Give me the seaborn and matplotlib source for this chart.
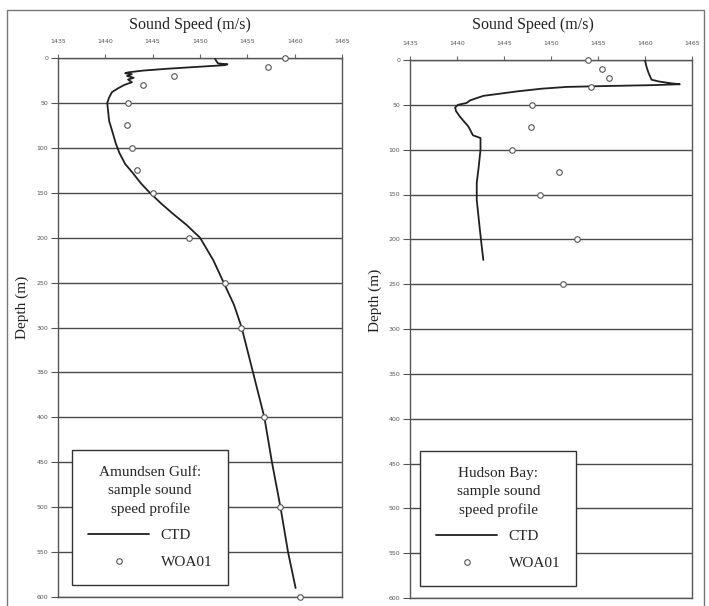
import matplotlib
matplotlib.use("Agg")
import matplotlib.pyplot as plt
import seaborn as sns
import pandas as pd
from matplotlib.lines import Line2D
from matplotlib.patches import Rectangle

# ---------------- data ----------------
ag_ctd_depth = [1, 3, 6, 7, 8, 10, 12, 14, 16, 17, 18, 20, 22, 24, 27, 30, 34, 38, 44, 50,
                60, 70, 84, 95, 106, 118, 128, 140, 150, 162, 173, 186, 200, 225, 250,
                275, 300, 350, 400, 450, 500, 550, 590]
ag_ctd_speed = [1451.6, 1451.7, 1451.9, 1452.9, 1452.6, 1449.5, 1446.5, 1444.0, 1442.4, 1442.1,
                1442.8, 1442.3, 1443.0, 1442.4, 1442.8, 1442.0, 1441.3, 1440.7, 1440.4, 1440.2,
                1440.3, 1440.4, 1440.8, 1441.1, 1441.5, 1442.1, 1442.9, 1443.8, 1444.7, 1445.9,
                1447.1, 1448.6, 1450.0, 1451.4, 1452.5, 1453.6, 1454.4, 1455.6, 1456.8, 1457.6,
                1458.5, 1459.3, 1460.1]
ag_woa_depth = [0, 10, 20, 30, 50, 75, 100, 125, 150, 200, 250, 300, 400, 500, 600]
ag_woa_speed = [1459.0, 1457.2, 1447.3, 1444.0, 1442.4, 1442.3, 1442.8, 1443.3, 1445.0,
                1448.8, 1452.6, 1454.3, 1456.8, 1458.5, 1460.6]

hb_ctd_depth = [0, 5, 9, 15, 22, 24, 26, 27, 28, 29, 30, 32, 35, 40, 45, 48, 50, 53, 57, 63,
                68, 74, 80, 84, 87, 100, 120, 137, 156, 186, 205, 223]
hb_ctd_speed = [1460.0, 1460.1, 1460.2, 1460.4, 1460.7, 1461.5, 1462.8, 1463.7, 1461.0, 1456.0,
                1451.7, 1449.0, 1446.4, 1442.8, 1441.4, 1441.0, 1440.1, 1439.8, 1439.9, 1440.3,
                1440.7, 1441.2, 1441.5, 1441.7, 1442.5, 1442.5, 1442.3, 1442.1, 1442.1, 1442.4,
                1442.6, 1442.8]
hb_woa_depth = [0, 10, 20, 30, 50, 75, 100, 125, 150, 200, 250]
hb_woa_speed = [1453.9, 1455.4, 1456.2, 1454.3, 1448.0, 1447.9, 1445.9, 1450.9, 1448.8,
                1452.8, 1451.3]

x_ticks = [1435, 1440, 1445, 1450, 1455, 1460, 1465]
y_ticks = list(range(0, 601, 50))
titles = ["Amundsen Gulf:\nsample sound\nspeed profile", "Hudson Bay:\nsample sound\nspeed profile"]

# ---------------- style ----------------
sns.set_style("white")
plt.rcParams["font.family"] = ["Liberation Serif", "DejaVu Serif"]

W, H = 709, 606
fig = plt.figure(figsize=(W / 100, H / 100), dpi=100)

def px_axes(x0, x1, ytop, ybot):
    return [x0 / W, (H - ybot) / H, (x1 - x0) / W, (ybot - ytop) / H]

axes = [fig.add_axes(px_axes(58, 342, 58, 597)),
        fig.add_axes(px_axes(410, 692, 60, 598))]

datasets = [
    (ag_ctd_depth, ag_ctd_speed, ag_woa_depth, ag_woa_speed),
    (hb_ctd_depth, hb_ctd_speed, hb_woa_depth, hb_woa_speed),
]
leg_x = [0.049, 0.036]

for ax, (cd, cs, wd, ws), ttl, lx in zip(axes, datasets, titles, leg_x):
    ctd = pd.DataFrame({"speed": cs, "depth": cd})
    woa = pd.DataFrame({"speed": ws, "depth": wd})
    for yv in y_ticks:
        ax.axhline(yv, color="#4a4a4a", lw=1.0, zorder=1)
    sns.lineplot(data=ctd, x="speed", y="depth", sort=False, estimator=None,
                 color="#202020", lw=1.3, ax=ax, label="CTD", zorder=3)
    sns.scatterplot(data=woa, x="speed", y="depth", marker="o", s=16,
                    facecolor="white", edgecolor="#555555", linewidth=0.8,
                    ax=ax, label="WOA01", zorder=4, clip_on=False)
    ax.set_xlim(1435, 1465)
    ax.set_ylim(600, 0)
    ax.set_xticks(x_ticks)
    ax.set_yticks(y_ticks)
    ax.xaxis.tick_top()
    ax.tick_params(axis="x", top=True, bottom=False, length=3, width=0.8,
                   color="#666666", labelsize=4.5, labelcolor="#555555", pad=7,
                   direction="out")
    ax.tick_params(axis="y", left=True, length=5, width=0.8, color="#555555",
                   labelsize=4.5, labelcolor="#555555", pad=2, direction="out")
    for lab in ax.get_xticklabels() + ax.get_yticklabels():
        lab.set_family(["DejaVu Sans"])
    ax.set_xlabel("")
    ax.set_ylabel("")
    for sp in ax.spines.values():
        sp.set_color("#555555")
        sp.set_linewidth(1.0)
    handles = [Line2D([], [], color="#202020", lw=1.3),
               Line2D([], [], ls="none", marker="o", ms=4, mfc="white",
                      mec="#555555", mew=0.8)]
    leg = ax.legend(handles, ["CTD", "WOA01"], title=ttl, loc="lower left",
                    bbox_to_anchor=(lx, 0.022), borderaxespad=0,
                    fontsize=11, title_fontsize=11, frameon=True, fancybox=False,
                    edgecolor="#333333", framealpha=1, borderpad=1.05,
                    labelspacing=0.85, handlelength=4.0, handletextpad=0.75)
    leg.get_frame().set_linewidth(1.0)
    leg.get_title().set_multialignment("center")
    leg.get_title().set_linespacing(1.5)
    leg.set_zorder(10)

# axis titles
fig.text(190 / W, 1 - 25 / H, "Sound Speed (m/s)", ha="center", va="center",
         fontsize=11.5, color="#222222")
fig.text(533 / W, 1 - 25 / H, "Sound Speed (m/s)", ha="center", va="center",
         fontsize=11.5, color="#222222")
fig.text(22 / W, 1 - 307 / H, "Depth (m)", ha="center", va="center",
         rotation=90, fontsize=11, color="#222222")
fig.text(375 / W, 1 - 300 / H, "Depth (m)", ha="center", va="center",
         rotation=90, fontsize=11, color="#222222")

# outer frame
fig.add_artist(Rectangle((7 / W, -0.05), (704 - 7) / W, (H - 10) / H + 0.05,
                         transform=fig.transFigure, fill=False,
                         edgecolor="#777777", lw=1.0))

fig.savefig("out.png", dpi=100, facecolor="white")
